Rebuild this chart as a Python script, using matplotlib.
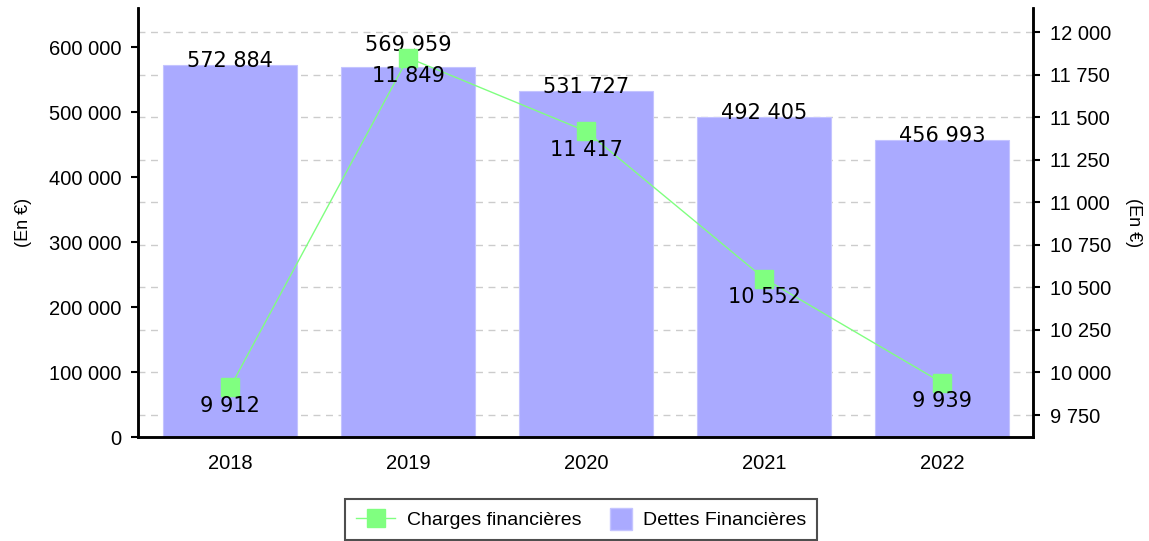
import matplotlib
matplotlib.use("Agg")
import matplotlib.pyplot as plt
from matplotlib.ticker import FuncFormatter, FixedLocator
from matplotlib.lines import Line2D
from matplotlib.patches import Patch, Rectangle
from matplotlib.legend_handler import HandlerPatch

years = ["2018", "2019", "2020", "2021", "2022"]
dettes = [572884, 569959, 531727, 492405, 456993]
charges = [9912, 11849, 11417, 10552, 9939]

bar_color = "#aaaaff"
line_color = "#80ff80"
tick_font = "Liberation Sans"
label_font = "DejaVu Sans"


def fmt(v, pos=None):
    return f"{v:,.0f}".replace(",", " ")


def square_patch(legend, orig_handle, xdescent, ydescent, width, height, fontsize):
    side = height * 1.25
    return Rectangle((width - side - xdescent, (height - side) / 2 - ydescent), side, side)


fig = plt.figure(figsize=(11.49, 5.41), dpi=100)
ax = fig.add_axes([0.1201, 0.1922, 0.779, 0.793])
ax2 = ax.twinx()

x = list(range(len(years)))
ax.bar(x, dettes, width=0.75, color=bar_color, edgecolor="#c4c4ff", linewidth=0.8, zorder=2)
ax2.plot(x, charges, color=line_color, lw=1.0, marker="s", markersize=13,
         markeredgecolor=line_color, zorder=3)

y1lo, y1hi = 0, 660000
y2lo, y2hi = 9621, 12141
ax.set_ylim(y1lo, y1hi)
ax2.set_ylim(y2lo, y2hi)
ax.set_xlim(-0.517, 4.51)

ax.yaxis.set_major_locator(FixedLocator(range(0, 600001, 100000)))
ax2.yaxis.set_major_locator(FixedLocator(range(9750, 12001, 250)))
ax.yaxis.set_major_formatter(FuncFormatter(fmt))
ax2.yaxis.set_major_formatter(FuncFormatter(fmt))

# grid follows the right axis ticks but sits behind the bars
grid_vals = [y1lo + (v - y2lo) / (y2hi - y2lo) * (y1hi - y1lo) for v in range(9750, 12001, 250)]
ax.yaxis.set_minor_locator(FixedLocator(grid_vals))
ax.grid(True, which="minor", axis="y", color="#cccccc", linestyle=(0, (5, 4)), lw=1.0, zorder=0)
ax.tick_params(axis="y", which="minor", length=0)
ax.set_axisbelow(True)

ax.set_xticks(x)
ax.set_xticklabels(years)
ax.tick_params(axis="x", length=0, pad=12)
ax.tick_params(axis="y", which="major", length=5, width=1.5, pad=7)
ax2.tick_params(axis="y", length=5, width=1.5, pad=7)
for lab in ax.get_xticklabels() + ax.get_yticklabels() + ax2.get_yticklabels():
    lab.set_fontfamily(tick_font)
    lab.set_fontsize(14.5)

for a in (ax, ax2):
    a.spines["top"].set_visible(False)
    for s in ("left", "right", "bottom"):
        a.spines[s].set_linewidth(1.8)

ax.set_ylabel("(En €)", fontfamily=tick_font, fontsize=13, labelpad=12)
ax2.set_ylabel("(En €)", fontfamily=tick_font, fontsize=13, rotation=270, labelpad=22)

# bar values sit on the bar tops, raised when the marker is in the way
for xi, v, c in zip(x, dettes, charges):
    marker_y = y1lo + (c - y2lo) / (y2hi - y2lo) * (y1hi - y1lo)
    dy = -1.5
    if abs(marker_y - v) < 30000:
        dy = 11
    ax.annotate(fmt(v), (xi, v), xytext=(0, dy), textcoords="offset points",
                ha="center", va="baseline", fontsize=15, fontfamily=label_font, zorder=5)

for xi, c in zip(x, charges):
    ax2.annotate(fmt(c), (xi, c), xytext=(0, -6), textcoords="offset points",
                 ha="center", va="top", fontsize=15, fontfamily=label_font, zorder=5)

line_handle = Line2D([], [], color=line_color, lw=1.0, marker="s", markersize=13,
                     markeredgecolor=line_color)
bar_handle = Patch(facecolor=bar_color, edgecolor="#c4c4ff")
leg = fig.legend([line_handle, bar_handle], ["Charges financières", "Dettes Financières"],
                 loc="lower center", bbox_to_anchor=(0.506, 0.0), ncol=2,
                 prop={"family": tick_font, "size": 14}, fancybox=False, frameon=True,
                 handlelength=2.0, handleheight=1.0, columnspacing=0.6,
                 borderpad=0.55, handletextpad=0.6, borderaxespad=0.05,
                 handler_map={Patch: HandlerPatch(patch_func=square_patch)})
leg.get_frame().set_edgecolor("#222222")
leg.get_frame().set_linewidth(1.5)

fig.savefig("out.png", dpi=100)
